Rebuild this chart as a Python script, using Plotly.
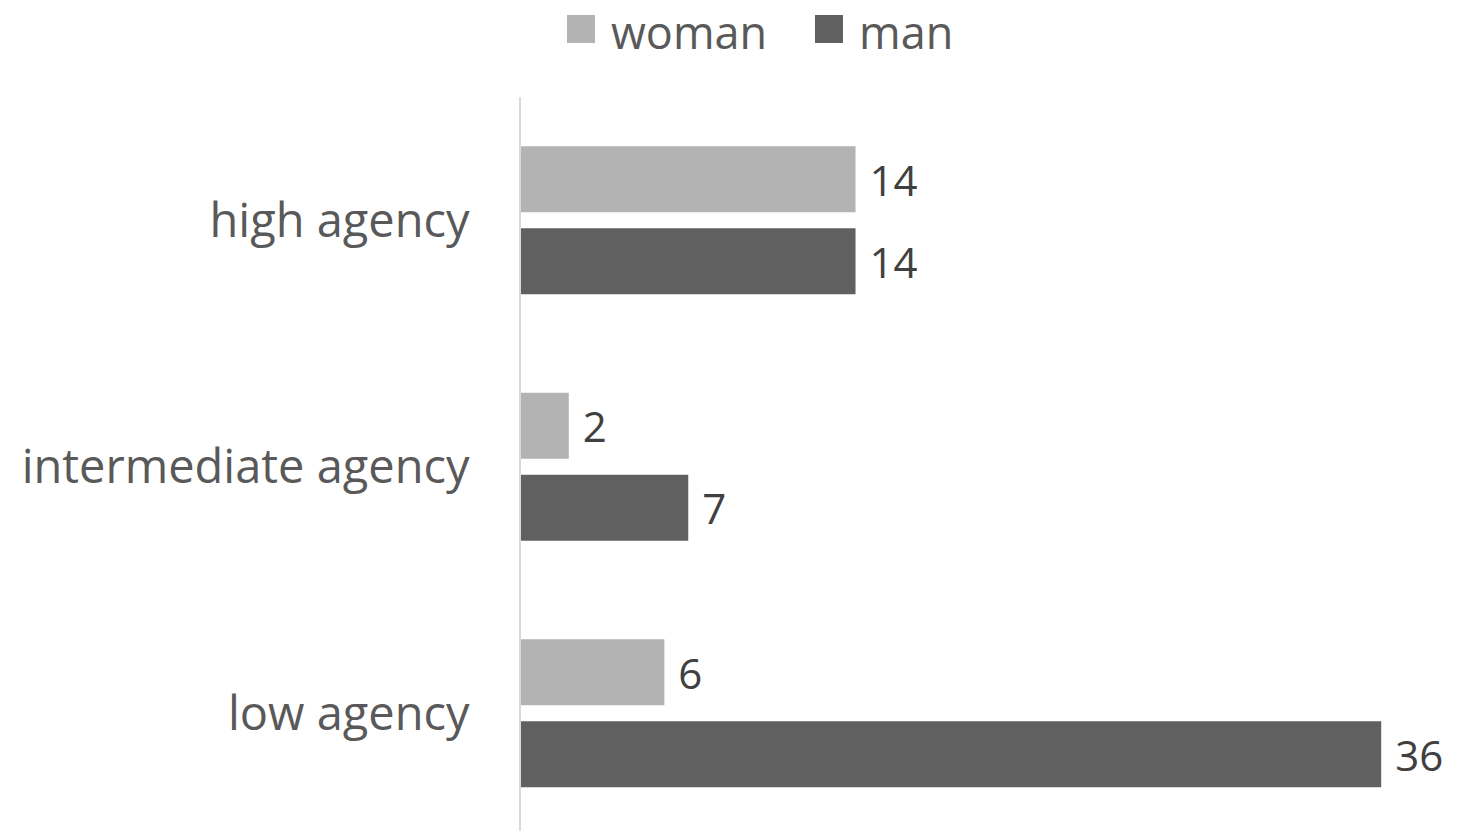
import plotly.graph_objects as go

categories = ["high agency", "intermediate agency", "low agency"]
series_names = ["woman", "man"]
series_colors = ["#B3B3B3", "#606060"]
woman = [14, 2, 6]
man = [14, 7, 36]
values = [woman, man]

FONT = "Open Sans"
fig = go.Figure()
for name, color, vals in zip(series_names, series_colors, values):
    fig.add_trace(go.Bar(
        y=categories, x=vals, name=name, orientation="h",
        marker=dict(color=color, line=dict(width=0)),
        text=["\u00a0" + str(v) for v in vals], textposition="outside",
        textfont=dict(family=FONT, size=42, color="#404040"),
        cliponaxis=False, showlegend=False,
    ))

# custom legend (large square swatches)
W, H = 1457, 831
legend_items = [(series_names[0], series_colors[0], 567), (series_names[1], series_colors[1], 815)]
for name, color, x0 in legend_items:
    fig.add_shape(type="rect", xref="paper", yref="paper",
                  x0=(x0 - 521) / 908, x1=(x0 + 28 - 521) / 908,
                  y0=(831 - 43) / 734, y1=(831 - 15) / 734,
                  fillcolor=color, line=dict(width=0), layer="above")
    fig.add_annotation(text=name, xref="paper", yref="paper",
                       x=(x0 + 42 - 521) / 908, y=(831 - 31) / 734,
                       xanchor="left", yanchor="middle", showarrow=False,
                       height=52, valign="middle",
                       font=dict(family=FONT, size=45, color="#595959"))

fig.update_layout(
    width=W, height=H,
    margin=dict(l=521, r=28, t=97, b=0, autoexpand=False),
    paper_bgcolor="white", plot_bgcolor="white",
    barmode="group", bargap=0.335, bargroupgap=0.195,
    font=dict(family=FONT, color="#595959"),
    showlegend=False,
)
fig.update_xaxes(range=[0, 38], showgrid=False, zeroline=False,
                 showticklabels=False, showline=False, automargin=False)
fig.update_yaxes(categoryorder="array", categoryarray=categories,
                 range=[2.478, -0.5], showgrid=False, zeroline=False,
                 showline=True, linecolor="#D9D9D9", linewidth=2,
                 ticks="", ticklabelstandoff=40, automargin=False,
                 tickfont=dict(family=FONT, size=47, color="#595959"))

fig.write_html("out.html", config={"displayModeBar": False},
               post_script="document.body.style.margin='0';document.body.style.overflow='hidden';")
